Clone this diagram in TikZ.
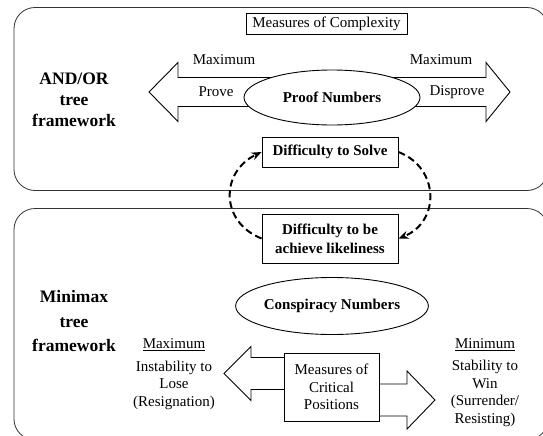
\documentclass[tikz,border=0pt]{standalone}
\usepackage{fontspec}
\setmainfont{Liberation Serif}
\usetikzlibrary{arrows.meta,shapes.geometric}
\begin{document}
\begin{tikzpicture}[x=1pt,y=-1pt,
  panel/.style={draw=black!80, line width=0.8pt, rounded corners=21pt},
  boxn/.style={draw, line width=0.9pt, fill=white, inner sep=0pt, font=\fontsize{15}{17.5}\selectfont, align=center},
  boldbox/.style={boxn, font=\fontsize{15}{19}\selectfont\bfseries},
  ell/.style={draw, ellipse, line width=0.9pt, fill=white, inner sep=0pt, font=\fontsize{15}{17.5}\selectfont\bfseries},
  lbl/.style={font=\fontsize{15}{17.5}\selectfont, align=center, inner sep=0pt},
  frame/.style={font=\fontsize{17.5}{21}\selectfont\bfseries, align=center, inner sep=0pt},
  blockarrow/.style={draw, line width=0.9pt, fill=white, line join=miter},
  loop/.style={line width=2pt, dash pattern=on 7pt off 4pt, -{Stealth[length=10pt,width=8pt]}}
]
\clip (0,0) rectangle (543,436);
\draw[panel] (14,7.5) rectangle (548,190.5);
\draw[panel] (14,208.5) rectangle (548,440);

% top panel
\node[boxn, minimum width=161pt, minimum height=21pt] (moc) at (326.5,23.5) {Measures of Complexity};
\draw[blockarrow] (149,92) -- (178,62.5) -- (178,77.5) -- (486,77.5) -- (486,62.5) -- (510,92) -- (486,121.5) -- (486,106.5) -- (178,106.5) -- (178,121.5) -- cycle;
\node[ell, minimum width=176pt, minimum height=55pt] (pn) at (332,97.5) {Proof Numbers};
\node[lbl] (max1) at (224,60) {Maximum};
\node[lbl] (max2) at (441,60) {Maximum};
\node[lbl] (prove) at (216,92) {Prove};
\node[lbl] (disprove) at (457,92) {Disprove};
\node[frame] (andor) at (74,100) {AND/OR\\tree\\framework};
\node[boldbox, minimum width=136pt, minimum height=30pt] (solve) at (330,152) {Difficulty to Solve};

% bottom panel
\node[boldbox, minimum width=136pt, minimum height=49pt] (achieve) at (330,238.5) {Difficulty to be\\achieve likeliness};
\draw[loop] (achieve.west) .. controls (220,222) and (220,172) .. (solve.west);
\draw[loop] (solve.east) .. controls (440,168) and (440,222) .. (achieve.east);

\node[ell, minimum width=176pt, minimum height=57pt] (cn) at (332,306) {Conspiracy Numbers};
\node[frame, font=\fontsize{17.5}{24.5}\selectfont\bfseries] (minimax) at (74,321.5) {Minimax\\tree\\framework};

\draw[blockarrow] (284,357.5) -- (251,357.5) -- (251,346.5) -- (224,373.5) -- (251,400.5) -- (251,389.5) -- (284,389.5);
\draw[blockarrow] (379,384) -- (407,384) -- (407,371) -- (435,400) -- (407,429) -- (407,416) -- (379,416);
\node[boxn, minimum width=95pt, minimum height=68pt] (crit) at (331.5,387) {Measures of\\Critical\\Positions};

\node[lbl] (maxl) at (174,345) {\underline{Maximum}};
\node[lbl] (instab) at (174,385) {Instability to\\Lose\\(Resignation)};
\node[lbl] (minr) at (485,345) {\underline{Minimum}};
\node[lbl] (stab) at (485,393.5) {Stability to\\Win\\(Surrender/\\Resisting)};
\end{tikzpicture}
\end{document}
